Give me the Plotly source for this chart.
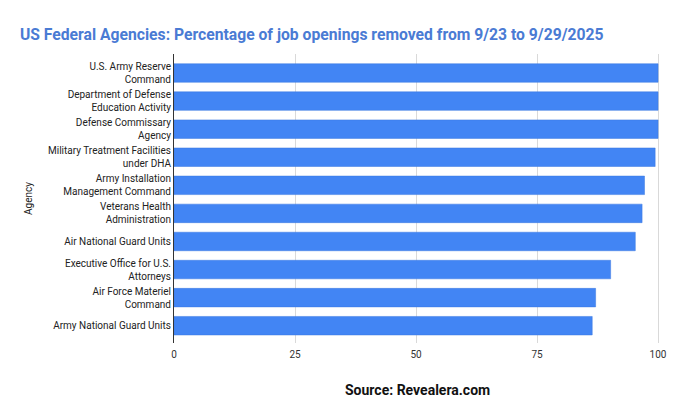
import plotly.graph_objects as go

agencies = [
    "U.S. Army Reserve<br>Command",
    "Department of Defense<br>Education Activity",
    "Defense Commissary<br>Agency",
    "Military Treatment Facilities<br>under DHA",
    "Army Installation<br>Management Command",
    "Veterans Health<br>Administration",
    "Air National Guard Units",
    "Executive Office for U.S.<br>Attorneys",
    "Air Force Materiel<br>Command",
    "Army National Guard Units",
]
pct_removed = [100, 100, 100, 99.4, 97.2, 96.7, 95.3, 90.2, 87.1, 86.4]
x_ticks = [0, 25, 50, 75, 100]

# the page body adds an 8px offset; margins compensate for it
fig = go.Figure(
    go.Bar(
        x=pct_removed,
        y=agencies,
        orientation="h",
        marker=dict(color="#4285F4", line=dict(color="#3b78e0", width=0.5)),
        hoverinfo="x+y",
    )
)

n = len(agencies)

fig.update_layout(
    width=680,
    height=420,
    margin=dict(l=166, r=28, t=46, b=85, autoexpand=False),
    paper_bgcolor="white",
    plot_bgcolor="white",
    bargap=0.34,
    font=dict(family="Roboto, Arial, sans-serif", size=10, color="#222222"),
    title=dict(
        text="<b>US Federal Agencies: Percentage of job openings removed from 9/23 to 9/29/2025</b>",
        x=0.0176,
        xanchor="left",
        y=0.938,
        yanchor="middle",
        font=dict(family="Roboto, Arial, sans-serif", size=15.7, color="#4a7bd4"),
    ),
    xaxis=dict(
        range=[0, 100.4],
        tickvals=x_ticks,
        ticktext=[str(v) for v in x_ticks],
        showgrid=True,
        gridcolor="#d9d9d9",
        gridwidth=1,
        zeroline=False,
        showline=False,
        ticks="",
        ticklabelstandoff=4,
        tickfont=dict(size=10, color="#333333"),
        automargin=False,
        fixedrange=True,
    ),
    yaxis=dict(
        range=[n - 1 + 0.616, -0.677],
        showline=True,
        linecolor="#333333",
        linewidth=1,
        ticks="",
        ticklabelstandoff=0,
        tickfont=dict(size=10, color="#222222"),
        title=dict(text="Agency", font=dict(size=10, color="#222222"), standoff=13),
        automargin=False,
        fixedrange=True,
    ),
    annotations=[
        dict(
            text="<b>Source: Revealera.com</b>",
            x=0.5,
            xref="paper",
            y=-0.162,
            yref="paper",
            yanchor="middle",
            showarrow=False,
            font=dict(family="Roboto, Arial, sans-serif", size=14, color="#111111"),
        )
    ],
    showlegend=False,
)

fig.write_html("out.html")
